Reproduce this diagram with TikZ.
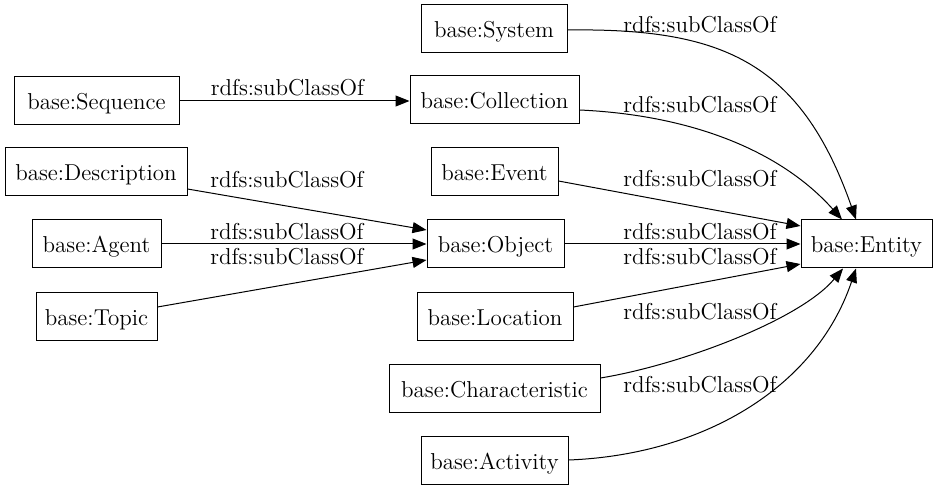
\documentclass[tikz,border=0pt]{standalone}
\usetikzlibrary{arrows.meta,calc}
\begin{document}
\begin{tikzpicture}[x=0.5pt,y=-0.5pt,
  cls/.style={draw,line width=0.5pt,minimum height=24pt,inner sep=0pt,text height=9pt,text depth=0pt,font=\fontsize{11.5}{13.5}\selectfont},
  lbl/.style={anchor=base,inner sep=0pt,font=\fontsize{11.5}{13.5}\selectfont},
  sub/.style={line width=0.5pt,-{Triangle[length=7pt,width=5.5pt]}}]
\useasboundingbox (0,0) rectangle (937,491);
% classes
\node[cls,minimum width=73pt]   (Sys) at (494,29)    {base:System};
\node[cls,minimum width=82.5pt] (Seq) at (96.5,101)  {base:Sequence};
\node[cls,minimum width=84.5pt] (Col) at (494.5,100) {base:Collection};
\node[cls,minimum width=91pt]   (Des) at (96,172)    {base:Description};
\node[cls,minimum width=63.5pt] (Evt) at (494.5,172) {base:Event};
\node[cls,minimum width=68.5pt] (Obj) at (495.5,244) {base:Object};
\node[cls,minimum width=64.5pt] (Agt) at (96.5,244)  {base:Agent};
\node[cls,minimum width=60.5pt] (Top) at (96.5,317)  {base:Topic};
\node[cls,minimum width=78pt]   (Loc) at (495,317)   {base:Location};
\node[cls,minimum width=105.5pt](Cha) at (494.5,389) {base:Characteristic};
\node[cls,minimum width=73.5pt] (Act) at (494.5,461) {base:Activity};
\node[cls,minimum width=65.5pt] (E)   at (866.5,244) {base:Entity};
% edges to Entity
\draw[sub] ($(Sys.east)+(0,1)$) .. controls (720,28) and (800,60) .. ($(E.north)+(-10.5,0)$);
\draw[sub] ($(Col.east)+(0,10)$) .. controls (690,115) and (780,150) .. ($(E.north)+(-24.5,0)$);
\draw[sub] ($(Evt.east)+(0,9)$) -- ($(E.west)+(0,-18)$);
\draw[sub] (Obj.east) -- (E.west);
\draw[sub] ($(Loc.east)+(0,-10)$) -- ($(E.west)+(0,20)$);
\draw[sub] ($(Cha.east)+(0,-11)$) .. controls (680,365) and (800,320) .. ($(E.south)+(-23.5,0)$);
\draw[sub] ($(Act.east)+(0,-1)$) .. controls (700,455) and (815,390) .. ($(E.south)+(-10.5,0)$);
% edges on the left
\draw[sub] (Seq.east) -- (Col.west |- Seq.east);
\draw[sub] ($(Des.east)+(0,17)$) -- ($(Obj.west)+(0,-14)$);
\draw[sub] (Agt.east) -- (Obj.west);
\draw[sub] ($(Top.east)+(0,-10)$) -- ($(Obj.west)+(0,16)$);
% labels
\node[lbl] (l1)  at (700,33)  {rdfs:subClassOf};
\node[lbl] (l2)  at (700,113) {rdfs:subClassOf};
\node[lbl] (l3)  at (700,187) {rdfs:subClassOf};
\node[lbl] (l4)  at (700,240) {rdfs:subClassOf};
\node[lbl] (l5)  at (700,265) {rdfs:subClassOf};
\node[lbl] (l6)  at (700,320) {rdfs:subClassOf};
\node[lbl] (l7)  at (700,393) {rdfs:subClassOf};
\node[lbl] (l8)  at (287.5,96)  {rdfs:subClassOf};
\node[lbl] (l9)  at (287,188) {rdfs:subClassOf};
\node[lbl] (l10) at (287,240) {rdfs:subClassOf};
\node[lbl] (l11) at (287,265) {rdfs:subClassOf};
\end{tikzpicture}
\end{document}
